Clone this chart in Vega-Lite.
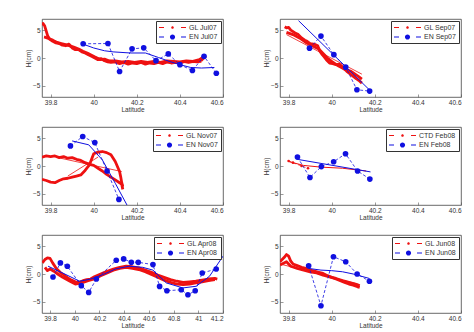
{
"$schema":"https://vega.github.io/schema/vega-lite/v6.json",
"background":"white",
"padding":{"left":25,"top":18,"right":2,"bottom":0},
"config":{
 "font":"Liberation Sans",
 "view":{"stroke":"#444","strokeWidth":0.8},
 "axis":{"grid":false,"domain":false,"tickSize":-3,"tickColor":"#555","tickWidth":0.6,"labelPadding":5,"labelFont":"Liberation Sans","labelFontSize":6.5,"labelColor":"#333","titleFont":"Liberation Sans","titleFontSize":6.5,"titleFontWeight":"normal","titleColor":"#333"},
 "axisX":{"titlePadding":1},
 "axisY":{"titlePadding":1},
 "legend":{"orient":"top-right","offset":2,"padding":3,"strokeColor":"#333","fillColor":"white","labelFont":"Liberation Sans","labelFontSize":7,"labelColor":"#333","symbolSize":49,"symbolStrokeWidth":0,"symbolOpacity":1,"rowPadding":1.5,"labelOffset":23}
},
"datasets":{
"p1":[
{"k":"gl","t":1,"x":39.758,"y":6.0},{"k":"gl","t":1,"x":39.765,"y":6.2},{"k":"gl","t":1,"x":39.772,"y":5.8},{"k":"gl","t":1,"x":39.779,"y":4.9},{"k":"gl","t":1,"x":39.786,"y":4.0},{"k":"gl","t":1,"x":39.795,"y":3.4},{"k":"gl","t":1,"x":39.81,"y":3.0},{"k":"gl","t":1,"x":39.825,"y":2.7},{"k":"gl","t":1,"x":39.84,"y":2.6},{"k":"gl","t":1,"x":39.855,"y":2.3},{"k":"gl","t":1,"x":39.87,"y":2.2},{"k":"gl","t":1,"x":39.885,"y":2.5},{"k":"gl","t":1,"x":39.9,"y":1.8},{"k":"gl","t":1,"x":39.915,"y":1.5},{"k":"gl","t":1,"x":39.93,"y":1.5},{"k":"gl","t":1,"x":39.945,"y":1.1},{"k":"gl","t":1,"x":39.96,"y":0.9},{"k":"gl","t":1,"x":39.975,"y":0.6},{"k":"gl","t":1,"x":39.99,"y":0.3},{"k":"gl","t":1,"x":40.005,"y":0.0},{"k":"gl","t":1,"x":40.02,"y":-0.3},{"k":"gl","t":1,"x":40.035,"y":-0.1},{"k":"gl","t":1,"x":40.05,"y":-0.5},{"k":"gl","t":1,"x":40.065,"y":-0.7},{"k":"gl","t":1,"x":40.08,"y":-0.8},{"k":"gl","t":1,"x":40.1,"y":-0.7},{"k":"gl","t":1,"x":40.12,"y":-1.0},{"k":"gl","t":1,"x":40.14,"y":-0.8},{"k":"gl","t":1,"x":40.16,"y":-1.1},{"k":"gl","t":1,"x":40.18,"y":-0.9},{"k":"gl","t":1,"x":40.2,"y":-1.0},{"k":"gl","t":1,"x":40.22,"y":-0.8},{"k":"gl","t":1,"x":40.24,"y":-1.1},{"k":"gl","t":1,"x":40.26,"y":-0.9},{"k":"gl","t":1,"x":40.28,"y":-1.0},{"k":"gl","t":1,"x":40.3,"y":-0.8},{"k":"gl","t":1,"x":40.32,"y":-1.0},{"k":"gl","t":1,"x":40.34,"y":-0.7},{"k":"gl","t":1,"x":40.36,"y":-0.9},{"k":"gl","t":1,"x":40.38,"y":-0.8},{"k":"gl","t":1,"x":40.4,"y":-0.9},{"k":"gl","t":1,"x":40.42,"y":-0.6},{"k":"gl","t":1,"x":40.44,"y":-0.8},{"k":"gl","t":1,"x":40.46,"y":-0.6},{"k":"gl","t":1,"x":40.48,"y":-0.7},{"k":"gl","t":1,"x":40.5,"y":-0.4},{"k":"gl","t":1,"x":40.51,"y":0.0},{"k":"gl","t":1,"x":40.52,"y":0.3},
{"k":"gl","t":2,"x":39.77,"y":3.8},{"k":"gl","t":2,"x":39.79,"y":3.5},{"k":"gl","t":2,"x":39.81,"y":3.2},{"k":"gl","t":2,"x":39.83,"y":2.8},{"k":"gl","t":2,"x":39.85,"y":2.6},{"k":"gl","t":2,"x":39.87,"y":2.4},{"k":"gl","t":2,"x":39.89,"y":2.2},{"k":"gl","t":2,"x":39.91,"y":1.9},{"k":"gl","t":2,"x":39.93,"y":1.6},{"k":"gl","t":2,"x":39.95,"y":1.2},{"k":"gl","t":2,"x":39.97,"y":0.9},{"k":"gl","t":2,"x":39.99,"y":0.5},{"k":"gl","t":2,"x":40.01,"y":0.1},{"k":"gl","t":2,"x":40.03,"y":-0.3},{"k":"gl","t":2,"x":40.05,"y":-0.2},{"k":"gl","t":2,"x":40.07,"y":-0.5},{"k":"gl","t":2,"x":40.1,"y":-0.5},{"k":"gl","t":2,"x":40.13,"y":-0.7},{"k":"gl","t":2,"x":40.16,"y":-0.6},{"k":"gl","t":2,"x":40.19,"y":-0.8},{"k":"gl","t":2,"x":40.22,"y":-0.6},{"k":"gl","t":2,"x":40.25,"y":-0.8},{"k":"gl","t":2,"x":40.28,"y":-0.6},{"k":"gl","t":2,"x":40.31,"y":-0.8},{"k":"gl","t":2,"x":40.34,"y":-0.5},{"k":"gl","t":2,"x":40.37,"y":-0.6},{"k":"gl","t":2,"x":40.4,"y":-0.7},{"k":"gl","t":2,"x":40.43,"y":-0.5},{"k":"gl","t":2,"x":40.46,"y":-0.6},{"k":"gl","t":2,"x":40.49,"y":-0.3},{"k":"gl","t":2,"x":40.51,"y":0.2},
{"k":"glfit","t":1,"x":39.77,"y":3.9},{"k":"glfit","t":1,"x":39.85,"y":2.6},{"k":"glfit","t":1,"x":39.95,"y":1.0},{"k":"glfit","t":1,"x":40.05,"y":-0.3},{"k":"glfit","t":1,"x":40.15,"y":-0.8},{"k":"glfit","t":1,"x":40.3,"y":-0.9},{"k":"glfit","t":1,"x":40.5,"y":-0.8},
{"k":"en","x":39.951,"y":2.55},{"k":"en","x":40.066,"y":2.6},{"k":"en","x":40.12,"y":-2.42},{"k":"en","x":40.178,"y":1.64},{"k":"en","x":40.232,"y":1.82},{"k":"en","x":40.289,"y":-0.48},{"k":"en","x":40.346,"y":0.73},{"k":"en","x":40.4,"y":-1.2},{"k":"en","x":40.458,"y":-2.24},{"k":"en","x":40.512,"y":0.3},{"k":"en","x":40.569,"y":-2.73},
{"k":"enfit","x":39.95,"y":2.5},{"k":"enfit","x":40.0,"y":1.8},{"k":"enfit","x":40.05,"y":1.3},{"k":"enfit","x":40.09,"y":1.1},{"k":"enfit","x":40.17,"y":0.9},{"k":"enfit","x":40.24,"y":0.9},{"k":"enfit","x":40.3,"y":0.1},{"k":"enfit","x":40.35,"y":-0.6},{"k":"enfit","x":40.4,"y":-1.2},{"k":"enfit","x":40.45,"y":-1.7},{"k":"enfit","x":40.5,"y":-1.8},{"k":"enfit","x":40.56,"y":-1.7}
],
"p2":[
{"k":"gl","t":1,"x":39.782,"y":5.6},{"k":"gl","t":1,"x":39.79,"y":5.4},{"k":"gl","t":1,"x":39.8,"y":5.5},{"k":"gl","t":1,"x":39.81,"y":5.0},{"k":"gl","t":1,"x":39.83,"y":4.5},{"k":"gl","t":1,"x":39.845,"y":4.2},{"k":"gl","t":1,"x":39.86,"y":3.6},{"k":"gl","t":1,"x":39.875,"y":3.2},{"k":"gl","t":1,"x":39.886,"y":3.0},{"k":"gl","t":1,"x":39.9,"y":2.6},{"k":"gl","t":1,"x":39.915,"y":2.5},{"k":"gl","t":1,"x":39.925,"y":2.4},{"k":"gl","t":1,"x":39.935,"y":2.2},{"k":"gl","t":1,"x":39.945,"y":1.2},{"k":"gl","t":1,"x":39.956,"y":0.6},{"k":"gl","t":1,"x":39.965,"y":0.2},{"k":"gl","t":1,"x":39.975,"y":-0.3},{"k":"gl","t":1,"x":39.99,"y":-0.9},{"k":"gl","t":1,"x":40.005,"y":-1.0},{"k":"gl","t":1,"x":40.02,"y":-1.2},{"k":"gl","t":1,"x":40.035,"y":-1.1},{"k":"gl","t":1,"x":40.05,"y":-1.6},{"k":"gl","t":1,"x":40.07,"y":-2.4},{"k":"gl","t":1,"x":40.09,"y":-3.0},{"k":"gl","t":1,"x":40.11,"y":-3.6},{"k":"gl","t":1,"x":40.125,"y":-4.0},{"k":"gl","t":1,"x":40.14,"y":-4.5},
{"k":"gl","t":2,"x":39.79,"y":4.6},{"k":"gl","t":2,"x":39.82,"y":4.2},{"k":"gl","t":2,"x":39.85,"y":3.6},{"k":"gl","t":2,"x":39.88,"y":2.8},{"k":"gl","t":2,"x":39.91,"y":2.2},{"k":"gl","t":2,"x":39.94,"y":1.6},{"k":"gl","t":2,"x":39.96,"y":0.8},{"k":"gl","t":2,"x":39.98,"y":0.0},{"k":"gl","t":2,"x":40.0,"y":-0.6},{"k":"gl","t":2,"x":40.03,"y":-1.4},{"k":"gl","t":2,"x":40.06,"y":-2.0},{"k":"gl","t":2,"x":40.09,"y":-2.4},{"k":"gl","t":2,"x":40.12,"y":-3.2},{"k":"gl","t":2,"x":40.14,"y":-3.8},
{"k":"glfit","t":1,"x":39.79,"y":4.2},{"k":"glfit","t":1,"x":40.14,"y":-2.9},
{"k":"en","x":39.897,"y":1.76},{"k":"en","x":39.95,"y":3.94},{"k":"en","x":40.01,"y":0.6},{"k":"en","x":40.065,"y":-1.64},{"k":"en","x":40.117,"y":-5.7},{"k":"en","x":40.176,"y":-5.94},
{"k":"enfit","x":39.846,"y":6.7},{"k":"enfit","x":40.176,"y":-5.76}
],
"p3":[
{"k":"gl","t":1,"x":39.76,"y":1.6},{"k":"gl","t":1,"x":39.78,"y":1.8},{"k":"gl","t":1,"x":39.8,"y":1.7},{"k":"gl","t":1,"x":39.82,"y":1.8},{"k":"gl","t":1,"x":39.84,"y":1.5},{"k":"gl","t":1,"x":39.86,"y":1.7},{"k":"gl","t":1,"x":39.88,"y":1.4},{"k":"gl","t":1,"x":39.9,"y":1.5},{"k":"gl","t":1,"x":39.92,"y":1.2},{"k":"gl","t":1,"x":39.94,"y":1.0},{"k":"gl","t":1,"x":39.96,"y":0.6},{"k":"gl","t":1,"x":39.98,"y":0.3},{"k":"gl","t":1,"x":40.0,"y":0.1},{"k":"gl","t":1,"x":40.02,"y":-0.4},{"k":"gl","t":1,"x":40.04,"y":-0.9},{"k":"gl","t":1,"x":40.06,"y":-1.5},{"k":"gl","t":1,"x":40.08,"y":-2.0},{"k":"gl","t":1,"x":40.1,"y":-2.5},{"k":"gl","t":1,"x":40.12,"y":-3.0},{"k":"gl","t":1,"x":40.13,"y":-3.3},{"k":"gl","t":1,"x":40.135,"y":-4.2},
{"k":"gl","t":2,"x":39.76,"y":-2.4},{"k":"gl","t":2,"x":39.78,"y":-2.6},{"k":"gl","t":2,"x":39.8,"y":-2.9},{"k":"gl","t":2,"x":39.82,"y":-3.0},{"k":"gl","t":2,"x":39.84,"y":-2.6},{"k":"gl","t":2,"x":39.86,"y":-2.3},{"k":"gl","t":2,"x":39.88,"y":-2.2},{"k":"gl","t":2,"x":39.9,"y":-2.0},{"k":"gl","t":2,"x":39.92,"y":-1.8},{"k":"gl","t":2,"x":39.94,"y":-1.6},{"k":"gl","t":2,"x":39.96,"y":-0.8},{"k":"gl","t":2,"x":39.98,"y":0.2},{"k":"gl","t":2,"x":39.99,"y":1.2},{"k":"gl","t":2,"x":40.0,"y":2.2},{"k":"gl","t":2,"x":40.02,"y":2.5},{"k":"gl","t":2,"x":40.04,"y":2.6},{"k":"gl","t":2,"x":40.06,"y":2.4},{"k":"gl","t":2,"x":40.08,"y":2.0},{"k":"gl","t":2,"x":40.1,"y":0.8},{"k":"gl","t":2,"x":40.12,"y":-1.0},{"k":"gl","t":2,"x":40.125,"y":-1.9},{"k":"gl","t":2,"x":40.13,"y":-3.0},{"k":"gl","t":2,"x":40.135,"y":-3.7},
{"k":"glfit","t":1,"x":39.846,"y":1.4},{"k":"glfit","t":1,"x":40.13,"y":-1.0},{"k":"glfit","t":2,"x":39.88,"y":-1.8},{"k":"glfit","t":2,"x":40.02,"y":1.6},
{"k":"en","x":39.892,"y":3.6},{"k":"en","x":39.949,"y":5.3},{"k":"en","x":40.005,"y":4.2},{"k":"en","x":40.062,"y":-0.9},{"k":"en","x":40.117,"y":-6.0},
{"k":"enfit","x":39.9,"y":4.5},{"k":"enfit","x":39.977,"y":3.8},{"k":"enfit","x":40.04,"y":1.1},{"k":"enfit","x":40.1,"y":-3.1},{"k":"enfit","x":40.16,"y":-7.4}
],
"p4":[
{"k":"ctd","x":39.8,"y":0.9},{"k":"ctd","x":39.82,"y":0.6},{"k":"ctd","x":39.86,"y":0.0},{"k":"ctd","x":39.89,"y":-0.4},
{"k":"glfit","t":1,"x":39.8,"y":0.8},{"k":"glfit","t":1,"x":39.87,"y":0.1},{"k":"glfit","t":1,"x":39.95,"y":-0.2},{"k":"glfit","t":1,"x":40.05,"y":-0.4},{"k":"glfit","t":1,"x":40.16,"y":-0.9},
{"k":"en","x":39.841,"y":1.6},{"k":"en","x":39.899,"y":-2.06},{"k":"en","x":39.952,"y":-0.1},{"k":"en","x":40.009,"y":0.76},{"k":"en","x":40.064,"y":2.2},{"k":"en","x":40.12,"y":-0.9},{"k":"en","x":40.177,"y":-2.35},
{"k":"enfit","x":39.84,"y":1.2},{"k":"enfit","x":40.18,"y":-1.06}
],
"p5":[
{"k":"gl","t":1,"x":39.738,"y":2.0},{"k":"gl","t":1,"x":39.759,"y":2.6},{"k":"gl","t":1,"x":39.779,"y":2.9},{"k":"gl","t":1,"x":39.8,"y":2.8},{"k":"gl","t":1,"x":39.821,"y":2.0},{"k":"gl","t":1,"x":39.851,"y":1.0},{"k":"gl","t":1,"x":39.882,"y":0.3},{"k":"gl","t":1,"x":39.913,"y":-0.2},{"k":"gl","t":1,"x":39.944,"y":-0.7},{"k":"gl","t":1,"x":39.974,"y":-1.1},{"k":"gl","t":1,"x":40.005,"y":-1.4},{"k":"gl","t":1,"x":40.036,"y":-1.5},{"k":"gl","t":1,"x":40.067,"y":-1.2},{"k":"gl","t":1,"x":40.098,"y":-1.0},{"k":"gl","t":1,"x":40.128,"y":-0.9},{"k":"gl","t":1,"x":40.159,"y":-0.5},{"k":"gl","t":1,"x":40.21,"y":0.0},{"k":"gl","t":1,"x":40.262,"y":0.5},{"k":"gl","t":1,"x":40.313,"y":0.9},{"k":"gl","t":1,"x":40.364,"y":1.2},{"k":"gl","t":1,"x":40.416,"y":1.4},{"k":"gl","t":1,"x":40.467,"y":1.3},{"k":"gl","t":1,"x":40.518,"y":1.1},{"k":"gl","t":1,"x":40.57,"y":0.7},{"k":"gl","t":1,"x":40.621,"y":0.3},{"k":"gl","t":1,"x":40.672,"y":-0.2},{"k":"gl","t":1,"x":40.723,"y":-0.6},{"k":"gl","t":1,"x":40.775,"y":-1.0},{"k":"gl","t":1,"x":40.826,"y":-1.3},{"k":"gl","t":1,"x":40.877,"y":-1.5},{"k":"gl","t":1,"x":40.929,"y":-1.4},{"k":"gl","t":1,"x":40.98,"y":-1.3},{"k":"gl","t":1,"x":41.031,"y":-1.1},{"k":"gl","t":1,"x":41.082,"y":-0.9},{"k":"gl","t":1,"x":41.134,"y":-0.8},{"k":"gl","t":1,"x":41.154,"y":-0.9},
{"k":"gl","t":2,"x":39.759,"y":1.2},{"k":"gl","t":2,"x":39.779,"y":0.6},{"k":"gl","t":2,"x":39.8,"y":0.9},{"k":"gl","t":2,"x":39.831,"y":0.5},{"k":"gl","t":2,"x":39.862,"y":0.0},{"k":"gl","t":2,"x":39.903,"y":-0.6},{"k":"gl","t":2,"x":39.954,"y":-1.2},{"k":"gl","t":2,"x":40.005,"y":-1.8},{"k":"gl","t":2,"x":40.056,"y":-1.6},{"k":"gl","t":2,"x":40.108,"y":-1.2},{"k":"gl","t":2,"x":40.159,"y":-0.9},{"k":"gl","t":2,"x":40.21,"y":-0.3},{"k":"gl","t":2,"x":40.262,"y":0.2},{"k":"gl","t":2,"x":40.313,"y":0.7},{"k":"gl","t":2,"x":40.364,"y":1.0},{"k":"gl","t":2,"x":40.416,"y":1.2},{"k":"gl","t":2,"x":40.467,"y":1.0},{"k":"gl","t":2,"x":40.518,"y":0.8},{"k":"gl","t":2,"x":40.57,"y":0.4},{"k":"gl","t":2,"x":40.621,"y":-0.1},{"k":"gl","t":2,"x":40.672,"y":-0.6},{"k":"gl","t":2,"x":40.723,"y":-1.1},{"k":"gl","t":2,"x":40.775,"y":-1.5},{"k":"gl","t":2,"x":40.826,"y":-1.8},{"k":"gl","t":2,"x":40.877,"y":-1.9},{"k":"gl","t":2,"x":40.929,"y":-1.8},{"k":"gl","t":2,"x":40.98,"y":-1.6},{"k":"gl","t":2,"x":41.031,"y":-1.4},{"k":"gl","t":2,"x":41.082,"y":-1.2},{"k":"gl","t":2,"x":41.134,"y":-1.0},
{"k":"en","x":39.824,"y":-0.54},{"k":"en","x":39.884,"y":1.99},{"k":"en","x":39.94,"y":1.39},{"k":"en","x":40.053,"y":-2.1},{"k":"en","x":40.113,"y":-3.3},{"k":"en","x":40.175,"y":-0.9},{"k":"en","x":40.336,"y":2.47},{"k":"en","x":40.396,"y":2.71},{"k":"en","x":40.458,"y":2.1},{"k":"en","x":40.514,"y":2.1},{"k":"en","x":40.633,"y":1.69},{"k":"en","x":40.687,"y":-2.23},{"k":"en","x":40.746,"y":-3.0},{"k":"en","x":40.862,"y":-2.83},{"k":"en","x":40.916,"y":-3.73},{"k":"en","x":40.975,"y":-3.0},{"k":"en","x":41.032,"y":0.18},{"k":"en","x":41.145,"y":0.9},
{"k":"enfit","x":39.784,"y":1.4},{"k":"enfit","x":39.9,"y":0.2},{"k":"enfit","x":40.04,"y":-1.3},{"k":"enfit","x":40.13,"y":-0.9},{"k":"enfit","x":40.23,"y":-0.1},{"k":"enfit","x":40.33,"y":0.9},{"k":"enfit","x":40.44,"y":1.4},{"k":"enfit","x":40.55,"y":1.2},{"k":"enfit","x":40.633,"y":0.7},{"k":"enfit","x":40.741,"y":-1.6},{"k":"enfit","x":40.875,"y":-2.5},{"k":"enfit","x":40.983,"y":-2.2},{"k":"enfit","x":41.091,"y":-0.4},{"k":"enfit","x":41.2,"y":3.2}
],
"p6":[
{"k":"gl","t":1,"x":39.76,"y":2.2},{"k":"gl","t":1,"x":39.77,"y":2.6},{"k":"gl","t":1,"x":39.78,"y":3.0},{"k":"gl","t":1,"x":39.79,"y":3.5},{"k":"gl","t":1,"x":39.8,"y":3.2},{"k":"gl","t":1,"x":39.81,"y":2.3},{"k":"gl","t":1,"x":39.82,"y":1.8},{"k":"gl","t":1,"x":39.84,"y":1.5},{"k":"gl","t":1,"x":39.86,"y":1.2},{"k":"gl","t":1,"x":39.88,"y":1.0},{"k":"gl","t":1,"x":39.9,"y":0.7},{"k":"gl","t":1,"x":39.92,"y":0.5},{"k":"gl","t":1,"x":39.94,"y":0.3},{"k":"gl","t":1,"x":39.96,"y":0.1},{"k":"gl","t":1,"x":39.98,"y":-0.3},{"k":"gl","t":1,"x":40.0,"y":-0.6},{"k":"gl","t":1,"x":40.02,"y":-0.9},{"k":"gl","t":1,"x":40.04,"y":-1.2},{"k":"gl","t":1,"x":40.06,"y":-1.5},{"k":"gl","t":1,"x":40.08,"y":-1.8},{"k":"gl","t":1,"x":40.1,"y":-2.0},{"k":"gl","t":1,"x":40.12,"y":-2.3},{"k":"gl","t":1,"x":40.13,"y":-2.4},
{"k":"gl","t":2,"x":39.76,"y":1.6},{"k":"gl","t":2,"x":39.79,"y":2.2},{"k":"gl","t":2,"x":39.81,"y":1.4},{"k":"gl","t":2,"x":39.84,"y":1.0},{"k":"gl","t":2,"x":39.87,"y":0.7},{"k":"gl","t":2,"x":39.9,"y":0.4},{"k":"gl","t":2,"x":39.93,"y":0.2},{"k":"gl","t":2,"x":39.96,"y":-0.2},{"k":"gl","t":2,"x":39.99,"y":-0.5},{"k":"gl","t":2,"x":40.02,"y":-0.8},{"k":"gl","t":2,"x":40.05,"y":-1.2},{"k":"gl","t":2,"x":40.08,"y":-1.5},{"k":"gl","t":2,"x":40.11,"y":-1.8},{"k":"gl","t":2,"x":40.13,"y":-2.1},
{"k":"glfit","t":1,"x":39.76,"y":1.8},{"k":"glfit","t":1,"x":40.13,"y":-1.9},
{"k":"en","x":39.893,"y":1.47},{"k":"en","x":39.95,"y":-5.7},{"k":"en","x":40.008,"y":3.1},{"k":"en","x":40.065,"y":2.2},{"k":"en","x":40.118,"y":0.0},{"k":"en","x":40.175,"y":-1.3},
{"k":"enfit","x":39.893,"y":1.0},{"k":"enfit","x":39.95,"y":0.7},{"k":"enfit","x":40.0,"y":0.6},{"k":"enfit","x":40.05,"y":0.4},{"k":"enfit","x":40.1,"y":0.0},{"k":"enfit","x":40.175,"y":-0.8}
]
},
"columns":2,
"spacing":{"row":30,"column":57},
"bounds":"flush",
"resolve":{"scale":{"color":"independent","shape":"independent","x":"independent","y":"independent"},"legend":{"color":"independent","shape":"independent"}},
"concat":[
{"width":181,"height":78,"data":{"name":"p1"},
 "encoding":{"x":{"field":"x","type":"quantitative","scale":{"domain":[39.76,40.6],"nice":false,"zero":false},"axis":{"values":[39.8,40,40.2,40.4,40.6],"format":"~g","title":"Latitude"}},
  "y":{"field":"y","type":"quantitative","scale":{"domain":[-7,7],"nice":false},"axis":{"values":[-5,0,5],"title":"H(cm)"}}},
 "layer":[
  {"transform":[{"filter":"datum.k=='gl'"}],"mark":{"type":"line","color":"#ee1111","strokeWidth":2.8,"strokeJoin":"round","clip":true},"encoding":{"detail":{"field":"t"}}},
  {"transform":[{"filter":"datum.k=='glfit'"}],"mark":{"type":"line","color":"#ee1111","strokeWidth":0.8,"clip":true},"encoding":{"detail":{"field":"t"}}},
  {"transform":[{"filter":"datum.k=='en'"}],"mark":{"type":"line","color":"#1010e0","strokeWidth":0.8,"strokeDash":[3,2],"clip":true},"encoding":{}},
  {"transform":[{"filter":"datum.k=='enfit'"}],"mark":{"type":"line","color":"#1010e0","strokeWidth":1,"clip":true},"encoding":{}},
  {"transform":[{"filter":"datum.k=='en'"}],"mark":{"type":"circle","color":"#1010e0","size":32,"opacity":1}},
  {"transform":[{"filter":"datum.k=='en'"}],"mark":{"type":"point","filled":true,"opacity":0},
   "encoding":{"color":{"field":"k","type":"nominal","scale":{"domain":["GL Jul07","EN Jul07"],"range":["#ee1111","#1010e0"]},"legend":{"title":null}},
    "shape":{"field":"k","type":"nominal","scale":{"domain":["GL Jul07","EN Jul07"],"range":["M-1,-0.11H0.43V0.11H-1Z M5.29,-0.11H6.71V0.11H5.29Z M2.49,0A0.37,0.37 0 1,0 3.23,0A0.37,0.37 0 1,0 2.49,0Z","M-1,-0.11H0.43V0.11H-1Z M5.29,-0.11H6.71V0.11H5.29Z M2.12,0A0.74,0.74 0 1,0 3.6,0A0.74,0.74 0 1,0 2.12,0Z"]},"legend":{"title":null}}}}
 ]},
{"width":181,"height":78,"data":{"name":"p2"},
 "encoding":{"x":{"field":"x","type":"quantitative","scale":{"domain":[39.76,40.6],"nice":false,"zero":false},"axis":{"values":[39.8,40,40.2,40.4,40.6],"format":"~g","title":"Latitude"}},
  "y":{"field":"y","type":"quantitative","scale":{"domain":[-7,7],"nice":false},"axis":{"values":[-5,0,5],"title":"H(cm)"}}},
 "layer":[
  {"transform":[{"filter":"datum.k=='gl'"}],"mark":{"type":"line","color":"#ee1111","strokeWidth":2.8,"strokeJoin":"round","clip":true},"encoding":{"detail":{"field":"t"}}},
  {"transform":[{"filter":"datum.k=='glfit'"}],"mark":{"type":"line","color":"#ee1111","strokeWidth":0.8,"clip":true},"encoding":{"detail":{"field":"t"}}},
  {"transform":[{"filter":"datum.k=='en'"}],"mark":{"type":"line","color":"#1010e0","strokeWidth":0.8,"strokeDash":[3,2],"clip":true},"encoding":{}},
  {"transform":[{"filter":"datum.k=='enfit'"}],"mark":{"type":"line","color":"#1010e0","strokeWidth":1,"clip":true},"encoding":{}},
  {"transform":[{"filter":"datum.k=='en'"}],"mark":{"type":"circle","color":"#1010e0","size":32,"opacity":1}},
  {"transform":[{"filter":"datum.k=='en'"}],"mark":{"type":"point","filled":true,"opacity":0},
   "encoding":{"color":{"field":"k","type":"nominal","scale":{"domain":["GL Sep07","EN Sep07"],"range":["#ee1111","#1010e0"]},"legend":{"title":null}},
    "shape":{"field":"k","type":"nominal","scale":{"domain":["GL Sep07","EN Sep07"],"range":["M-1,-0.11H0.43V0.11H-1Z M5.29,-0.11H6.71V0.11H5.29Z M2.49,0A0.37,0.37 0 1,0 3.23,0A0.37,0.37 0 1,0 2.49,0Z","M-1,-0.11H0.43V0.11H-1Z M5.29,-0.11H6.71V0.11H5.29Z M2.12,0A0.74,0.74 0 1,0 3.6,0A0.74,0.74 0 1,0 2.12,0Z"]},"legend":{"title":null}}}}
 ]},
{"width":181,"height":78,"data":{"name":"p3"},
 "encoding":{"x":{"field":"x","type":"quantitative","scale":{"domain":[39.76,40.6],"nice":false,"zero":false},"axis":{"values":[39.8,40,40.2,40.4,40.6],"format":"~g","title":"Latitude"}},
  "y":{"field":"y","type":"quantitative","scale":{"domain":[-7,7],"nice":false},"axis":{"values":[-5,0,5],"title":"H(cm)"}}},
 "layer":[
  {"transform":[{"filter":"datum.k=='gl'"}],"mark":{"type":"line","color":"#ee1111","strokeWidth":2.8,"strokeJoin":"round","clip":true},"encoding":{"detail":{"field":"t"}}},
  {"transform":[{"filter":"datum.k=='glfit'"}],"mark":{"type":"line","color":"#ee1111","strokeWidth":0.8,"clip":true},"encoding":{"detail":{"field":"t"}}},
  {"transform":[{"filter":"datum.k=='en'"}],"mark":{"type":"line","color":"#1010e0","strokeWidth":0.8,"strokeDash":[3,2],"clip":true},"encoding":{}},
  {"transform":[{"filter":"datum.k=='enfit'"}],"mark":{"type":"line","color":"#1010e0","strokeWidth":1,"clip":true},"encoding":{}},
  {"transform":[{"filter":"datum.k=='en'"}],"mark":{"type":"circle","color":"#1010e0","size":32,"opacity":1}},
  {"transform":[{"filter":"datum.k=='en'"}],"mark":{"type":"point","filled":true,"opacity":0},
   "encoding":{"color":{"field":"k","type":"nominal","scale":{"domain":["GL Nov07","EN Nov07"],"range":["#ee1111","#1010e0"]},"legend":{"title":null}},
    "shape":{"field":"k","type":"nominal","scale":{"domain":["GL Nov07","EN Nov07"],"range":["M-1,-0.11H0.43V0.11H-1Z M5.29,-0.11H6.71V0.11H5.29Z M2.49,0A0.37,0.37 0 1,0 3.23,0A0.37,0.37 0 1,0 2.49,0Z","M-1,-0.11H0.43V0.11H-1Z M5.29,-0.11H6.71V0.11H5.29Z M2.12,0A0.74,0.74 0 1,0 3.6,0A0.74,0.74 0 1,0 2.12,0Z"]},"legend":{"title":null}}}}
 ]},
{"width":181,"height":78,"data":{"name":"p4"},
 "encoding":{"x":{"field":"x","type":"quantitative","scale":{"domain":[39.76,40.6],"nice":false,"zero":false},"axis":{"values":[39.8,40,40.2,40.4,40.6],"format":"~g","title":"Latitude"}},
  "y":{"field":"y","type":"quantitative","scale":{"domain":[-7,7],"nice":false},"axis":{"values":[-5,0,5],"title":"H(cm)"}}},
 "layer":[
  {"transform":[{"filter":"datum.k=='ctd'"}],"mark":{"type":"line","color":"#ee1111","strokeWidth":0.8,"strokeDash":[3,2],"clip":true},"encoding":{}},
  {"transform":[{"filter":"datum.k=='ctd'"}],"mark":{"type":"circle","color":"#ee1111","size":7,"opacity":1}},
  {"transform":[{"filter":"datum.k=='glfit'"}],"mark":{"type":"line","color":"#ee1111","strokeWidth":1,"clip":true},"encoding":{"detail":{"field":"t"}}},
  {"transform":[{"filter":"datum.k=='en'"}],"mark":{"type":"line","color":"#1010e0","strokeWidth":0.8,"strokeDash":[3,2],"clip":true},"encoding":{}},
  {"transform":[{"filter":"datum.k=='enfit'"}],"mark":{"type":"line","color":"#1010e0","strokeWidth":1,"clip":true},"encoding":{}},
  {"transform":[{"filter":"datum.k=='en'"}],"mark":{"type":"circle","color":"#1010e0","size":32,"opacity":1}},
  {"transform":[{"filter":"datum.k=='en'"}],"mark":{"type":"point","filled":true,"opacity":0},
   "encoding":{"color":{"field":"k","type":"nominal","scale":{"domain":["CTD Feb08","EN Feb08"],"range":["#ee1111","#1010e0"]},"legend":{"title":null}},
    "shape":{"field":"k","type":"nominal","scale":{"domain":["CTD Feb08","EN Feb08"],"range":["M-1,-0.11H0.43V0.11H-1Z M5.29,-0.11H6.71V0.11H5.29Z M2.49,0A0.37,0.37 0 1,0 3.23,0A0.37,0.37 0 1,0 2.49,0Z","M-1,-0.11H0.43V0.11H-1Z M5.29,-0.11H6.71V0.11H5.29Z M2.12,0A0.74,0.74 0 1,0 3.6,0A0.74,0.74 0 1,0 2.12,0Z"]},"legend":{"title":null}}}}
 ]},
{"width":181,"height":78,"data":{"name":"p5"},
 "encoding":{"x":{"field":"x","type":"quantitative","scale":{"domain":[39.735,41.2],"nice":false,"zero":false},"axis":{"values":[39.8,40,40.2,40.4,40.6,40.8,41,41.2],"format":"~g","title":"Latitude"}},
  "y":{"field":"y","type":"quantitative","scale":{"domain":[-7,7],"nice":false},"axis":{"values":[-5,0,5],"title":"H(cm)"}}},
 "layer":[
  {"transform":[{"filter":"datum.k=='gl'"}],"mark":{"type":"line","color":"#ee1111","strokeWidth":2.8,"strokeJoin":"round","clip":true},"encoding":{"detail":{"field":"t"}}},
  {"transform":[{"filter":"datum.k=='en'"}],"mark":{"type":"line","color":"#1010e0","strokeWidth":0.8,"strokeDash":[3,2],"clip":true},"encoding":{}},
  {"transform":[{"filter":"datum.k=='enfit'"}],"mark":{"type":"line","color":"#1010e0","strokeWidth":1,"clip":true},"encoding":{}},
  {"transform":[{"filter":"datum.k=='en'"}],"mark":{"type":"circle","color":"#1010e0","size":32,"opacity":1}},
  {"transform":[{"filter":"datum.k=='en'"}],"mark":{"type":"point","filled":true,"opacity":0},
   "encoding":{"color":{"field":"k","type":"nominal","scale":{"domain":["GL Apr08","EN Apr08"],"range":["#ee1111","#1010e0"]},"legend":{"title":null}},
    "shape":{"field":"k","type":"nominal","scale":{"domain":["GL Apr08","EN Apr08"],"range":["M-1,-0.11H0.43V0.11H-1Z M5.29,-0.11H6.71V0.11H5.29Z M2.49,0A0.37,0.37 0 1,0 3.23,0A0.37,0.37 0 1,0 2.49,0Z","M-1,-0.11H0.43V0.11H-1Z M5.29,-0.11H6.71V0.11H5.29Z M2.12,0A0.74,0.74 0 1,0 3.6,0A0.74,0.74 0 1,0 2.12,0Z"]},"legend":{"title":null}}}}
 ]},
{"width":181,"height":78,"data":{"name":"p6"},
 "encoding":{"x":{"field":"x","type":"quantitative","scale":{"domain":[39.76,40.6],"nice":false,"zero":false},"axis":{"values":[39.8,40,40.2,40.4,40.6],"format":"~g","title":"Latitude"}},
  "y":{"field":"y","type":"quantitative","scale":{"domain":[-7,7],"nice":false},"axis":{"values":[-5,0,5],"title":"H(cm)"}}},
 "layer":[
  {"transform":[{"filter":"datum.k=='gl'"}],"mark":{"type":"line","color":"#ee1111","strokeWidth":2.8,"strokeJoin":"round","clip":true},"encoding":{"detail":{"field":"t"}}},
  {"transform":[{"filter":"datum.k=='glfit'"}],"mark":{"type":"line","color":"#ee1111","strokeWidth":0.8,"clip":true},"encoding":{"detail":{"field":"t"}}},
  {"transform":[{"filter":"datum.k=='en'"}],"mark":{"type":"line","color":"#1010e0","strokeWidth":0.8,"strokeDash":[3,2],"clip":true},"encoding":{}},
  {"transform":[{"filter":"datum.k=='enfit'"}],"mark":{"type":"line","color":"#1010e0","strokeWidth":1,"clip":true},"encoding":{}},
  {"transform":[{"filter":"datum.k=='en'"}],"mark":{"type":"circle","color":"#1010e0","size":32,"opacity":1}},
  {"transform":[{"filter":"datum.k=='en'"}],"mark":{"type":"point","filled":true,"opacity":0},
   "encoding":{"color":{"field":"k","type":"nominal","scale":{"domain":["GL Jun08","EN Jun08"],"range":["#ee1111","#1010e0"]},"legend":{"title":null}},
    "shape":{"field":"k","type":"nominal","scale":{"domain":["GL Jun08","EN Jun08"],"range":["M-1,-0.11H0.43V0.11H-1Z M5.29,-0.11H6.71V0.11H5.29Z M2.49,0A0.37,0.37 0 1,0 3.23,0A0.37,0.37 0 1,0 2.49,0Z","M-1,-0.11H0.43V0.11H-1Z M5.29,-0.11H6.71V0.11H5.29Z M2.12,0A0.74,0.74 0 1,0 3.6,0A0.74,0.74 0 1,0 2.12,0Z"]},"legend":{"title":null}}}}
 ]}
]
}
